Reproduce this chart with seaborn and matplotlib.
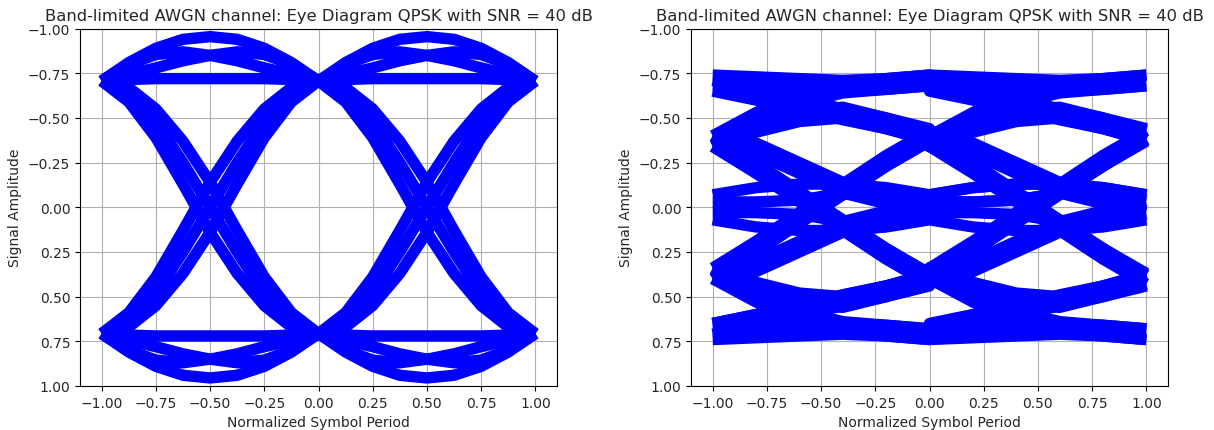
import numpy as np
import pandas as pd
import matplotlib
matplotlib.use("Agg")
import matplotlib.pyplot as plt
import seaborn as sns

# Sample offsets within one symbol period (left eye diagram)
t_ideal = [0.0, 0.125, 0.25, 0.375, 0.5, 0.625, 0.75, 0.875, 1.0]

# One-symbol waveform pieces of the ideal band-limited QPSK in-phase rail
ideal_shapes = {
    "upper_outer":  [-0.707, -0.81, -0.89, -0.94, -0.955, -0.94, -0.89, -0.81, -0.707],
    "upper_skew_a": [-0.707, -0.80, -0.855, -0.87, -0.85, -0.82, -0.78, -0.745, -0.707],
    "upper_skew_b": [-0.707, -0.745, -0.78, -0.82, -0.85, -0.87, -0.855, -0.80, -0.707],
    "upper_flat":   [-0.707, -0.715, -0.72, -0.72, -0.72, -0.72, -0.72, -0.715, -0.707],
    "lower_outer":  [0.707, 0.81, 0.89, 0.94, 0.955, 0.94, 0.89, 0.81, 0.707],
    "lower_skew_a": [0.707, 0.80, 0.855, 0.87, 0.85, 0.82, 0.78, 0.745, 0.707],
    "lower_skew_b": [0.707, 0.745, 0.78, 0.82, 0.85, 0.87, 0.855, 0.80, 0.707],
    "lower_flat":   [0.707, 0.715, 0.72, 0.72, 0.72, 0.72, 0.72, 0.715, 0.707],
    "fall_early":   [-0.707, -0.59, -0.39, -0.13, 0.14, 0.37, 0.55, 0.67, 0.707],
    "fall_mid":     [-0.707, -0.63, -0.48, -0.25, 0.00, 0.25, 0.48, 0.63, 0.707],
    "fall_late":    [-0.707, -0.67, -0.55, -0.37, -0.14, 0.13, 0.39, 0.59, 0.707],
    "rise_early":   [0.707, 0.59, 0.39, 0.13, -0.14, -0.37, -0.55, -0.67, -0.707],
    "rise_mid":     [0.707, 0.63, 0.48, 0.25, 0.00, -0.25, -0.48, -0.63, -0.707],
    "rise_late":    [0.707, 0.67, 0.55, 0.37, 0.14, -0.13, -0.39, -0.59, -0.707],
}

# Two consecutive symbol periods form one eye trace
ideal_traces = [
    ("upper_outer", "upper_outer"), ("upper_skew_a", "fall_early"),
    ("upper_skew_b", "upper_skew_b"), ("upper_flat", "fall_mid"),
    ("rise_early", "upper_skew_a"), ("rise_mid", "upper_flat"),
    ("rise_late", "fall_late"), ("lower_outer", "lower_outer"),
    ("lower_skew_a", "rise_early"), ("lower_skew_b", "lower_skew_b"),
    ("lower_flat", "rise_mid"), ("fall_early", "lower_skew_a"),
    ("fall_mid", "lower_flat"), ("fall_late", "rise_late"),
]

# Channel-distorted pieces (right eye diagram), one symbol period each.
# Names give the start/end amplitude level (A..E from -0.7 to +0.7).
t_chan = [0.0, 0.2, 0.4, 0.6, 0.8, 1.0]
channel_shapes = {
    "AA_1": [-0.74, -0.73, -0.72, -0.71, -0.72, -0.74],
    "AA_2": [-0.68, -0.67, -0.66, -0.65, -0.66, -0.68],
    "AB_1": [-0.71, -0.66, -0.61, -0.55, -0.50, -0.44],
    "AB_2": [-0.65, -0.60, -0.55, -0.49, -0.44, -0.38],
    "BA_1": [-0.40, -0.53, -0.64, -0.70, -0.72, -0.74],
    "BA_2": [-0.34, -0.47, -0.58, -0.64, -0.66, -0.68],
    "BB_1": [-0.40, -0.48, -0.54, -0.56, -0.50, -0.43],
    "BB_2": [-0.34, -0.42, -0.48, -0.50, -0.44, -0.37],
    "BC_1": [-0.40, -0.36, -0.25, -0.14, -0.08, -0.04],
    "BC_2": [-0.34, -0.30, -0.19, -0.08, -0.02, 0.02],
    "BD_1": [-0.34, -0.19, -0.03, 0.13, 0.29, 0.43],
    "BD_2": [-0.40, -0.25, -0.09, 0.07, 0.23, 0.37],
    "CB":   [-0.03, -0.03, -0.04, -0.08, -0.23, -0.38],
    "CC_1": [-0.07, -0.11, -0.13, -0.13, -0.11, -0.07],
    "CC_2": [0.07, 0.11, 0.13, 0.13, 0.11, 0.07],
    "CD":   [0.03, 0.03, 0.04, 0.08, 0.23, 0.38],
    "DB_1": [0.34, 0.19, 0.03, -0.13, -0.29, -0.43],
    "DB_2": [0.40, 0.25, 0.09, -0.07, -0.23, -0.37],
    "DC_1": [0.40, 0.36, 0.25, 0.14, 0.08, 0.04],
    "DC_2": [0.34, 0.30, 0.19, 0.08, 0.02, -0.02],
    "DD_1": [0.40, 0.48, 0.54, 0.56, 0.50, 0.43],
    "DD_2": [0.34, 0.42, 0.48, 0.50, 0.44, 0.37],
    "DE_1": [0.40, 0.53, 0.64, 0.70, 0.72, 0.74],
    "DE_2": [0.34, 0.47, 0.58, 0.64, 0.66, 0.68],
    "ED_1": [0.71, 0.66, 0.61, 0.55, 0.50, 0.44],
    "ED_2": [0.65, 0.60, 0.55, 0.49, 0.44, 0.38],
    "EE_1": [0.74, 0.73, 0.72, 0.71, 0.72, 0.74],
    "EE_2": [0.68, 0.67, 0.66, 0.65, 0.66, 0.68],
}

channel_traces = [
    ("AA_1", "AA_1"), ("AA_2", "AB_2"), ("BA_1", "AB_1"), ("BA_2", "AA_2"),
    ("AB_1", "BA_1"), ("AB_2", "BB_2"), ("BB_1", "BC_1"), ("BB_2", "BD_2"),
    ("CB", "BB_1"), ("DB_1", "BD_1"), ("DB_2", "BC_2"), ("DB_2", "BA_2"),
    ("BC_1", "CC_1"), ("BC_2", "CD"), ("CC_1", "CB"), ("CC_2", "CC_2"),
    ("DC_1", "CC_1"), ("DC_2", "CB"),
    ("BD_1", "DB_1"), ("BD_2", "DD_2"), ("CD", "DC_1"), ("DD_1", "DE_1"),
    ("DD_2", "DC_2"), ("ED_1", "DB_2"), ("ED_2", "DD_1"), ("ED_2", "DE_2"),
    ("DE_1", "EE_1"), ("DE_2", "ED_2"), ("EE_1", "ED_1"), ("EE_2", "EE_2"),
]

TITLE = "Band-limited AWGN channel: Eye Diagram QPSK with SNR = 40 dB"


def long_table(shapes, offsets, traces):
    rows = []
    for i, (first, second) in enumerate(traces):
        for off, v in zip(offsets, shapes[first]):
            rows.append({"trace": i, "t": -1.0 + off, "amp": v})
        for off, v in zip(offsets, shapes[second]):
            rows.append({"trace": i, "t": 0.0 + off, "amp": v})
    return pd.DataFrame(rows)


ideal_df = long_table(ideal_shapes, t_ideal, ideal_traces)
chan_df = long_table(channel_shapes, t_chan, channel_traces)

sns.set_theme(style="ticks")
plt.rcParams["font.family"] = ["DejaVu Sans"]
plt.rcParams["axes.unicode_minus"] = True

fig = plt.figure(figsize=(12.14, 4.31), dpi=100)
ax_w, ax_h = 477 / 1214, 357.4 / 431
ax_b = 1 - 387 / 431
axes = [fig.add_axes([80 / 1214, ax_b, ax_w, ax_h]),
        fig.add_axes([691 / 1214, ax_b, ax_w, ax_h])]

for ax, df in zip(axes, [ideal_df, chan_df]):
    sns.lineplot(data=df, x="t", y="amp", units="trace", estimator=None,
                 sort=False, color="#0000ff", linewidth=8.2, ax=ax, legend=False,
                 solid_capstyle="butt", solid_joinstyle="round")
    ax.set_title(TITLE, fontsize=11.8)
    ax.set_xlabel("Normalized Symbol Period", fontsize=10)
    ax.set_ylabel("Signal Amplitude", fontsize=10)
    ax.set_xlim(-1.1, 1.1)
    ax.set_ylim(1.0, -1.0)
    ax.set_xticks(np.arange(-1.0, 1.01, 0.25))
    ax.set_yticks(np.arange(-1.0, 1.01, 0.25))
    ax.grid(True, color="#b0b0b0", linewidth=0.8)
    ax.set_axisbelow(True)
    for s in ax.spines.values():
        s.set_visible(True)
        s.set_color("black")
        s.set_linewidth(0.8)
    ax.tick_params(labelsize=10, length=3.5, width=0.8, color="black")

fig.savefig("out.png", dpi=100)
